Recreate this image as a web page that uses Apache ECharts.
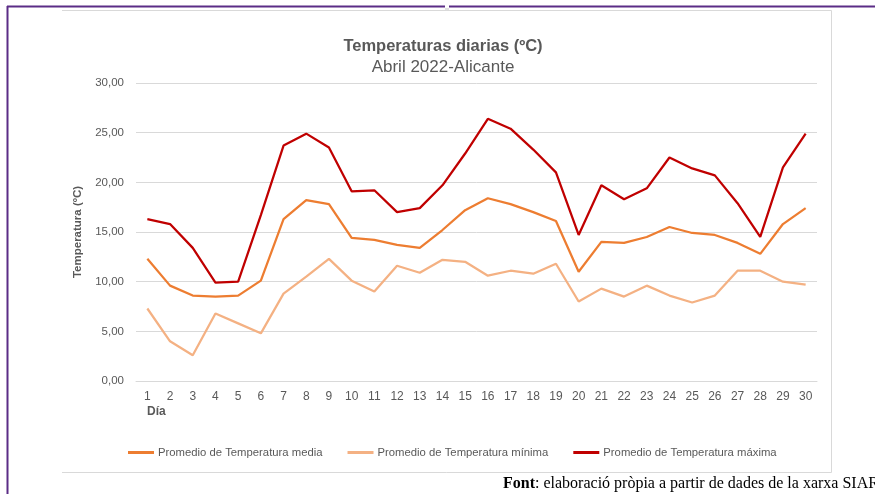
<!DOCTYPE html>
<html><head><meta charset="utf-8">
<script src="https://cdn.jsdelivr.net/npm/echarts@6/dist/echarts.min.js"></script>
<style>html,body{margin:0;padding:0;background:#fff}#c{width:875px;height:494px}</style>
</head><body><div id="c"></div>
<script>
const days = ['1','2','3','4','5','6','7','8','9','10','11','12','13','14','15','16','17','18','19','20','21','22','23','24','25','26','27','28','29','30'];
const tMedia = [12.3,9.6,8.6,8.5,8.6,10.1,16.3,18.2,17.8,14.4,14.2,13.7,13.4,15.2,17.2,18.4,17.8,17.0,16.1,11.0,14.0,13.9,14.5,15.5,14.9,14.7,13.9,12.8,15.8,17.4];
const tMinima = [7.3,4.0,2.6,6.8,5.8,4.8,8.8,10.5,12.3,10.1,9.0,11.6,10.9,12.2,12.0,10.6,11.1,10.8,11.8,8.0,9.3,8.5,9.6,8.6,7.9,8.6,11.1,11.1,10.0,9.7];
const tMaxima = [16.3,15.8,13.4,9.9,10.0,16.7,23.7,24.9,23.5,19.1,19.2,17.0,17.4,19.7,22.9,26.4,25.4,23.3,21.0,14.7,19.7,18.3,19.4,22.5,21.4,20.7,17.9,14.5,21.5,24.9];
const seriesNames = ['Promedio de Temperatura media','Promedio de Temperatura mínima','Promedio de Temperatura máxima'];
const titleText = 'Temperaturas diarias (ºC)';
const subtitleText = 'Abril 2022-Alicante';
const yAxisTitle = 'Temperatura (ºC)';
const xAxisTitle = 'Día';

const font = "'Liberation Sans',sans-serif";
const txt = '#595959';
const chart = echarts.init(document.getElementById('c'), null, {renderer:'canvas'});
chart.setOption({
  animation:false,
  backgroundColor:'#fff',
  textStyle:{fontFamily:font},
  title:{text:titleText, subtext:subtitleText, left:438, textAlign:'center', top:33,
    itemGap:4,
    textStyle:{fontFamily:font,fontSize:16.5,fontWeight:'bold',color:txt},
    subtextStyle:{fontFamily:font,fontSize:17,color:txt}},
  legend:{bottom:31, left:123, itemWidth:26, itemHeight:3, itemGap:25,
    icon:'rect',
    textStyle:{fontFamily:font,fontSize:11.3,color:txt,padding:[0,0,0,-1]},
    data:seriesNames},
  grid:{left:136, right:58, top:83, bottom:113},
  xAxis:{type:'category', data:days, boundaryGap:true,
    axisLine:{lineStyle:{color:'#D9D9D9'}}, axisTick:{show:false},
    axisLabel:{color:txt,fontSize:12,fontFamily:font,margin:10}},
  yAxis:{type:'value', min:0, max:30, interval:5,
    name:yAxisTitle, nameLocation:'middle', nameGap:40,
    nameTextStyle:{fontFamily:font,fontSize:11.5,fontWeight:'bold',color:txt},
    axisLine:{show:false}, axisTick:{show:false},
    splitLine:{lineStyle:{color:'#D9D9D9',width:1}},
    axisLabel:{color:txt,fontSize:11.5,fontFamily:font,margin:12,
      formatter:v=>v.toFixed(2).replace('.',',')}},
  series:[
    {name:seriesNames[0],type:'line',data:tMedia,symbol:'none',lineStyle:{width:2.25,color:'#ED7D31'},itemStyle:{color:'#ED7D31'},z:3},
    {name:seriesNames[1],type:'line',data:tMinima,symbol:'none',lineStyle:{width:2.25,color:'#F4B183'},itemStyle:{color:'#F4B183'},z:2},
    {name:seriesNames[2],type:'line',data:tMaxima,symbol:'none',lineStyle:{width:2.25,color:'#C00000'},itemStyle:{color:'#C00000'},z:4}
  ],
  graphic:[
    {type:'line',shape:{x1:7,y1:6.5,x2:875,y2:6.5},style:{stroke:'#5B2C86',lineWidth:2}},
    {type:'line',shape:{x1:7.5,y1:6,x2:7.5,y2:494},style:{stroke:'#5B2C86',lineWidth:2}},
    {type:'rect',shape:{x:445,y:5,width:4,height:5},style:{fill:'#fff'}},
    {type:'rect',shape:{x:445,y:8,width:4,height:3},style:{fill:'#E0E0E0'}},
    {type:'polyline',shape:{points:[[62,10.5],[831.5,10.5],[831.5,472.5],[62,472.5]]},style:{stroke:'#D9D9D9',lineWidth:1,fill:null}},
    {type:'text',left:147,top:406,style:{text:xAxisTitle,font:"bold 12px "+font,fill:txt}},
    {type:'text',left:503,top:476,style:{rich:{b:{fontFamily:"'Liberation Serif',serif",fontSize:16,fontWeight:'bold',fill:'#000'},n:{fontFamily:"'Liberation Serif',serif",fontSize:16,fill:'#000'}},text:'{b|Font}{n|: elaboració pròpia a partir de dades de la xarxa SIAR}'}}
  ]
});
</script></body></html>
